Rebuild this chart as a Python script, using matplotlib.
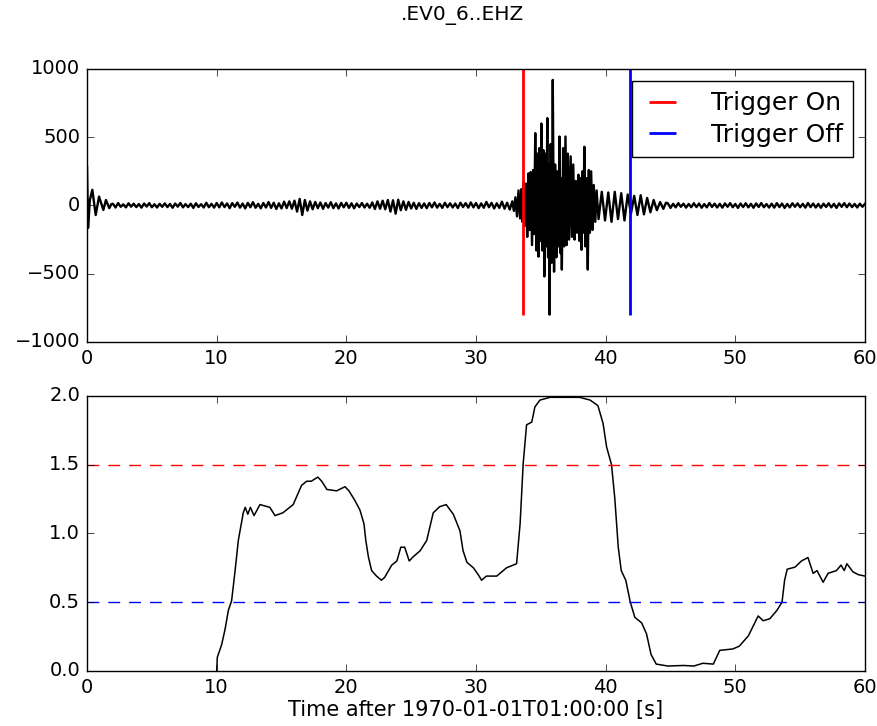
import numpy as np
import matplotlib
matplotlib.use("Agg")
import matplotlib.pyplot as plt

plt.style.use("classic")

title = ".EV0_6..EHZ"
xlabel = "Time after 1970-01-01T01:00:00 [s]"

# seismogram: onset ringing at the start of the record
ring_t = [0.0, 0.08, 0.22, 0.41, 0.67, 0.93, 1.26, 1.46, 1.72, 1.88]
ring_v = [285, -165, 40, 115, -70, 65, -33, 40, -20, 10]

# background noise, sampled every 0.2 s from 2.0 s
noise1_start = 2.0
noise1_v = [
    12, -15, 18, -10, 8, -14, 16, -9, 13, -12,
    10, -16, 14, -8, 17, -13, 9, -15, 12, -10,
    15, -12, 11, -17, 14, -9, 18, -14, 10, -12,
    13, -18, 16, -11, 9, -15, 20, -13, 12, -16,
    18, -14, 22, -12, 15, -20, 17, -10, 21, -16,
    14, -22, 19, -13, 24, -17, 12, -21, 18, -15,
    25, -18, 20, -26, 16, -22, 28, -19, 30, -24,
    35, -45, 48, -70, 40, -38, 30, -28, 26, -20,
    22, -25, 18, -16, 24, -20, 15, -22, 19, -14,
    20, -18, 16, -21, 14, -12, 18, -15, 13, -17,
    22, -26, 30, -24, 35, -28, 40, -45, 38, -60,
    42, -35, 30, -32, 26, -22, 20, -25, 17, -18,
    15, -20, 18, -14, 22, -16, 12, -18, 20, -13,
    16, -15, 14, -19, 20, -12, 17, -16, 22, -14,
    18, -20, 15, -17, 26, -13, 19, -22, 16, -18,
    28, -24, 20, -30,
]

# the event itself
event_t = [32.80, 32.92, 33.04, 33.16, 33.28, 33.40, 33.50, 33.58, 33.66, 33.76,
           33.86, 33.95, 34.05, 34.13, 34.22, 34.32, 34.41, 34.48, 34.57, 34.66,
           34.74, 34.82, 34.88, 34.96, 35.04, 35.12, 35.20, 35.27, 35.34, 35.42,
           35.50, 35.56, 35.61, 35.67, 35.76, 35.84, 35.92, 36.02, 36.10, 36.20,
           36.28, 36.36, 36.44, 36.52, 36.56, 36.62, 36.72, 36.80, 36.90, 37.00,
           37.08, 37.18, 37.30, 37.40, 37.50, 37.60, 37.70, 37.80, 37.90, 37.98,
           38.06, 38.14, 38.20, 38.26, 38.36, 38.44, 38.52, 38.62, 38.70, 38.78,
           38.88, 38.98, 39.08, 39.20, 39.30, 39.45, 39.70, 39.95, 40.20, 40.45,
           40.70, 40.95, 41.20, 41.45, 41.70, 41.95, 42.20, 42.45, 42.70, 42.95,
           43.20, 43.45, 43.70, 43.95, 44.20, 44.45, 44.65]
event_v = [30, -40, 60, -80, 110, -95, 120, -120, 175, -150,
           160, -230, 235, -180, 245, -290, 260, -210, 530, -330,
           380, -375, 420, -260, 600, -330, 405, -520, 380, -300,
           640, -380, 300, -800, 450, -420, 920, -485, 300, -380,
           250, -300, 505, -350, 200, -470, 420, -300, 505, -290,
           380, -250, 360, -230, 300, -250, 180, -200, 225, -260,
           200, -325, 250, -200, 430, -300, 200, -470, 260, -200,
           250, -180, 150, -120, 110, -100, 100, -110, 95, -120,
           100, -100, 90, -110, 80, -60, 70, -70, 75, -65,
           55, -50, 40, -35, 25, -25, 20]

# quiet tail, sampled every 0.2 s from 44.8 s
noise2_start = 44.8
noise2_v = [
    15, -18, 12, -14, 17, -10, 13, -16, 11, -13,
    16, -12, 14, -17, 10, -14, 18, -11, 13, -15,
    12, -16, 15, -10, 17, -13, 11, -18, 14, -12,
    16, -14, 12, -17, 15, -11, 18, -13, 10, -15,
    13, -16, 17, -12, 14, -18, 11, -14, 16, -10,
    15, -13, 12, -16, 18, -12, 14, -15, 11, -17,
    13, -11, 16, -14, 12, -18, 15, -10, 17, -13,
    14, -12, 11, -15, 13, -10, 12,
]

trigger_on = [33.65]
trigger_off = [41.88]

# characteristic function (STA/LTA)
cft_t = [10.0, 10.05, 10.38, 10.64, 10.9, 11.15, 11.41, 11.67, 12.05, 12.2,
         12.4, 12.6, 12.88, 13.34, 14.1, 14.5, 15.1, 15.9, 16.55, 16.94,
         17.3, 17.8, 18.1, 18.5, 19.25, 19.9, 20.2, 20.66, 21.05, 21.36,
         21.5, 21.7, 21.95, 22.33, 22.7, 22.95, 23.5, 23.9, 24.2, 24.5,
         24.85, 25.15, 25.7, 26.2, 26.7, 27.2, 27.7, 28.25, 28.76, 29.0,
         29.3, 29.8, 30.17, 30.43, 30.8, 31.6, 32.35, 33.13, 33.4, 33.64,
         33.9, 34.3, 34.54, 34.93, 35.7, 38.0, 38.8, 39.4, 39.8, 40.07,
         40.45, 40.7, 40.97, 41.2, 41.55, 41.9, 42.25, 42.77, 43.15, 43.5,
         43.9, 44.8, 45.98, 46.8, 47.5, 48.3, 48.8, 49.8, 50.3, 51.0,
         51.76, 52.15, 52.66, 53.2, 53.6, 53.8, 54.0, 54.6, 55.1, 55.6,
         56.0, 56.3, 56.77, 57.15, 57.8, 58.15, 58.4, 58.6, 59.08, 59.5,
         60.0]
cft_v = [0.0, 0.10, 0.19, 0.30, 0.44, 0.51, 0.72, 0.95, 1.15, 1.19,
         1.14, 1.19, 1.13, 1.21, 1.19, 1.13, 1.15, 1.21, 1.35, 1.38,
         1.38, 1.41, 1.38, 1.32, 1.31, 1.34, 1.31, 1.24, 1.17, 1.07,
         0.95, 0.83, 0.73, 0.69, 0.66, 0.68, 0.77, 0.80, 0.90, 0.90,
         0.80, 0.83, 0.875, 0.95, 1.15, 1.195, 1.21, 1.14, 1.02, 0.875,
         0.79, 0.75, 0.70, 0.66, 0.69, 0.69, 0.75, 0.78, 1.07, 1.51,
         1.79, 1.81, 1.92, 1.97, 1.99, 1.99, 1.97, 1.93, 1.80, 1.63,
         1.50, 1.26, 0.90, 0.73, 0.66, 0.50, 0.39, 0.35, 0.27, 0.12,
         0.05, 0.036, 0.04, 0.036, 0.056, 0.05, 0.15, 0.16, 0.18, 0.255,
         0.40, 0.365, 0.38, 0.44, 0.50, 0.66, 0.74, 0.755, 0.80, 0.825,
         0.71, 0.73, 0.645, 0.71, 0.73, 0.77, 0.73, 0.78, 0.72, 0.70,
         0.69]
thr_on = 1.5
thr_off = 0.5

# assemble the trace
dt = 0.2
noise1_t = noise1_start + dt * np.arange(len(noise1_v))
noise2_t = noise2_start + dt * np.arange(len(noise2_v))
tr_t = np.concatenate([ring_t, noise1_t, event_t, noise2_t])
tr_v = np.concatenate([ring_v, noise1_v, event_v, noise2_v])

fig = plt.figure(figsize=(8.78, 7.26), dpi=100, facecolor="white")
ax1 = fig.add_axes([0.0991, 0.529, 0.8861, 0.376])
ax2 = fig.add_axes([0.0991, 0.0758, 0.8861, 0.3788])

ax1.plot(tr_t, tr_v, "k", lw=1.7)
ax1.vlines(trigger_on, -800, 1000, color="r", lw=2, label="Trigger On")
ax1.vlines(trigger_off, -800, 1000, color="b", lw=2, label="Trigger Off")
ax1.set_xlim(0, 60)
ax1.set_ylim(-1000, 1000)
ax1.set_yticks([-1000, -500, 0, 500, 1000])
ax1.legend(loc="upper right", fontsize=18, handlelength=1.65,
           handletextpad=1.1, labelspacing=0.3, borderpad=0.4,
           fancybox=False, numpoints=1)

ax2.plot(cft_t, cft_v, "k", lw=1.1)
ax2.axhline(thr_on, color="r", lw=1, ls="--", dashes=(8.5, 6.5))
ax2.axhline(thr_off, color="b", lw=1, ls="--", dashes=(8.5, 6.5))
ax2.set_xlim(0, 60)
ax2.set_ylim(0, 2)
ax2.set_yticks([0.0, 0.5, 1.0, 1.5, 2.0])
ax2.set_xlabel(xlabel, fontsize=15, labelpad=2)

for ax in (ax1, ax2):
    ax.set_xticks([0, 10, 20, 30, 40, 50, 60])
    ax.tick_params(labelsize=14, direction="in", length=5, pad=5)
    ax.set_facecolor("white")

fig.text(0.527, 0.992, title, fontsize=14.5, ha="center", va="top")
fig.savefig("out.png", dpi=100, facecolor="white")
